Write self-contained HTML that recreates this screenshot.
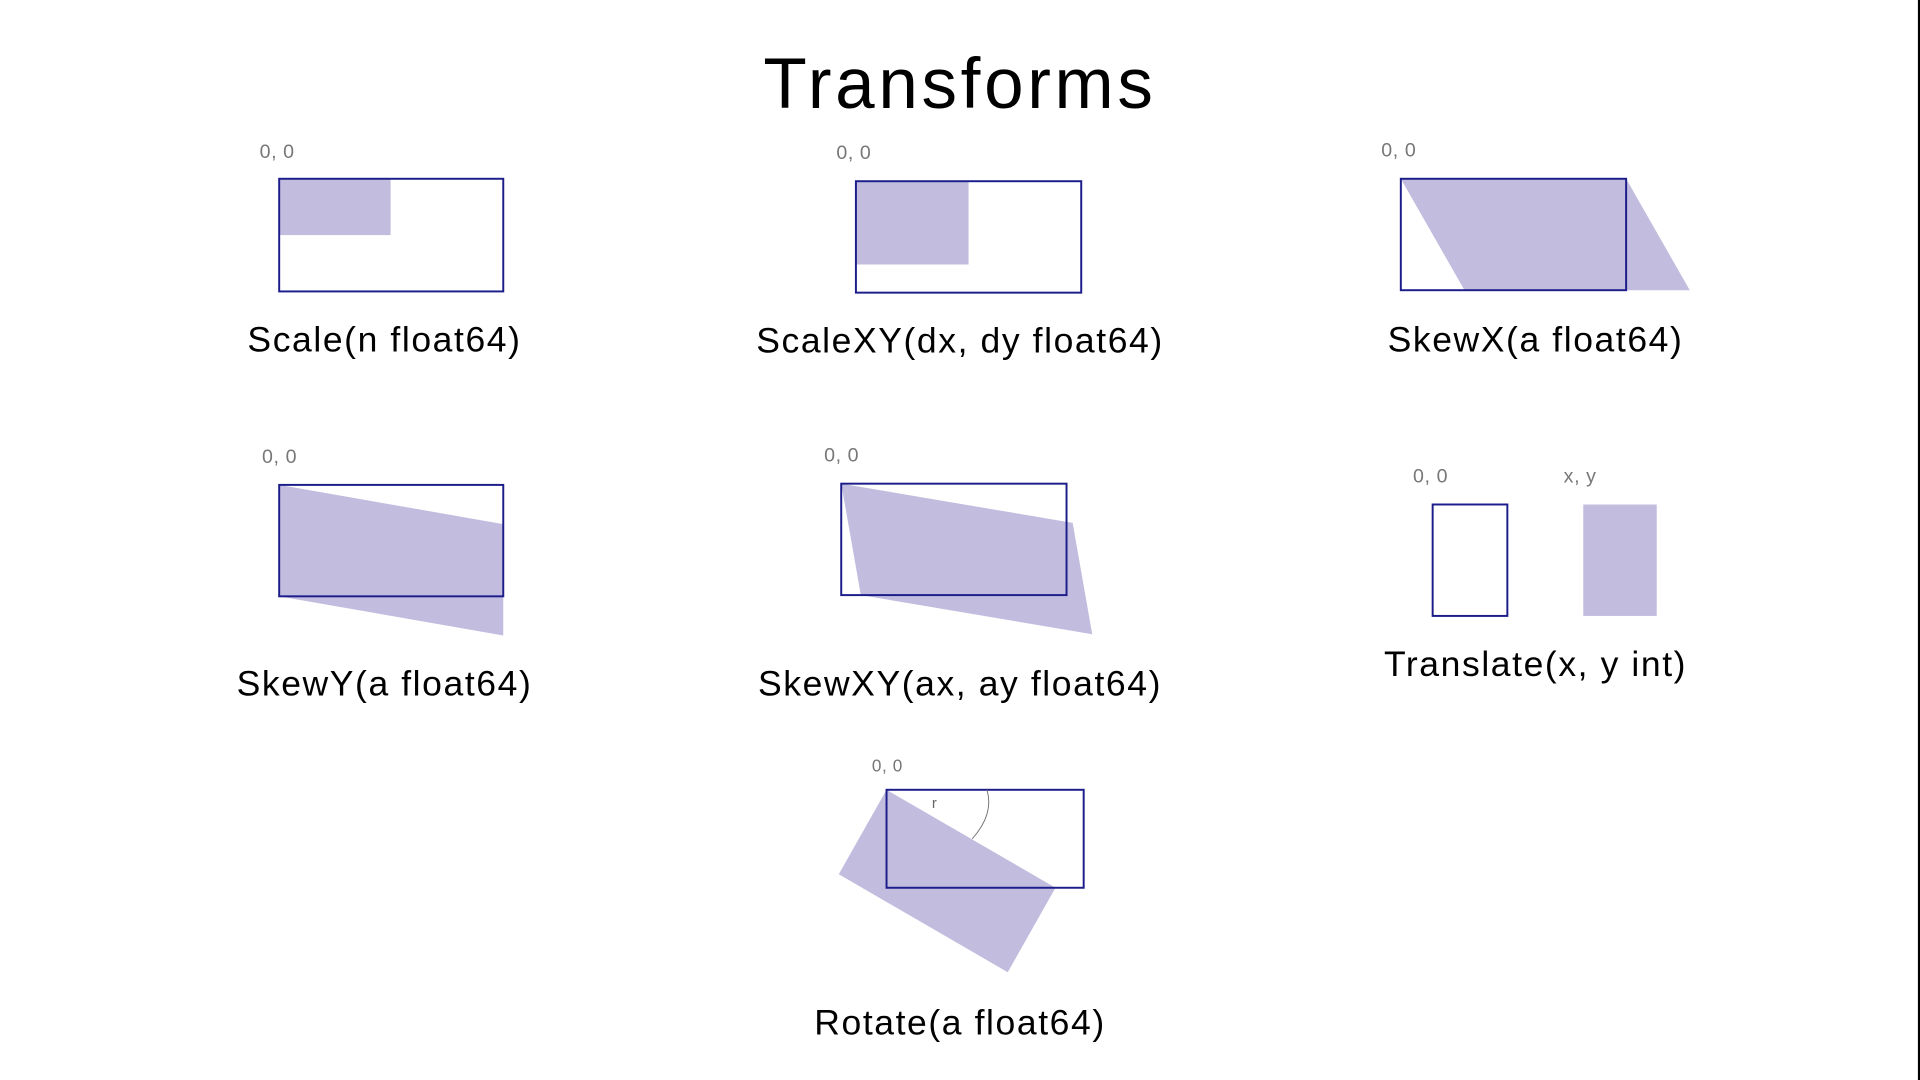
<!DOCTYPE html>
<html><head><meta charset="utf-8"><style>
html,body{margin:0;padding:0;background:#fff;width:1920px;height:1080px;overflow:hidden}
svg{display:block}
text{font-family:"Liberation Sans",sans-serif}
.cap{font-size:29px;fill:#000;text-anchor:middle;letter-spacing:1.3px}
.lbl{font-size:16px;fill:#777;letter-spacing:0.5px}
.box{fill:none;stroke:#1c1c8a;stroke-width:1.6}
.sh{fill:#c2bddf}
</style></head><body>
<svg width="1920" height="1080" viewBox="0 0 1568 882">
<rect x="1566.3" y="0" width="1.7" height="882" fill="#000"/>
<text x="784" y="88" font-size="58" text-anchor="middle" letter-spacing="3">Transforms</text>

<g>
<rect class="sh" x="228" y="146" width="91" height="46"/>
<rect class="box" x="228" y="146" width="183" height="92"/>
<text class="lbl" x="212" y="129">0, 0</text>
<text class="cap" x="314" y="287">Scale(n float64)</text>
</g>

<g>
<rect class="sh" x="699" y="148" width="92" height="68"/>
<rect class="box" x="699" y="148" width="184" height="91"/>
<text class="lbl" x="683" y="130">0, 0</text>
<text class="cap" x="784" y="288">ScaleXY(dx, dy float64)</text>
</g>

<g>
<polygon class="sh" points="1144,146 1328,146 1380,237 1196,237"/>
<rect class="box" x="1144" y="146" width="184" height="91"/>
<text class="lbl" x="1128" y="128">0, 0</text>
<text class="cap" x="1254" y="287">SkewX(a float64)</text>
</g>

<g>
<polygon class="sh" points="228,396 411,428 411,519 228,487"/>
<rect class="box" x="228" y="396" width="183" height="91"/>
<text class="lbl" x="214" y="378">0, 0</text>
<text class="cap" x="314" y="568">SkewY(a float64)</text>
</g>

<g>
<polygon class="sh" points="687,395 876,427 892,518 703,486"/>
<rect class="box" x="687" y="395" width="184" height="91"/>
<text class="lbl" x="673" y="377">0, 0</text>
<text class="cap" x="784" y="568">SkewXY(ax, ay float64)</text>
</g>

<g>
<rect class="sh" x="1293" y="412" width="60" height="91"/>
<rect class="box" x="1170" y="412" width="61" height="91"/>
<text class="lbl" x="1154" y="394">0, 0</text>
<text class="lbl" x="1277" y="394">x, y</text>
<text class="cap" x="1254" y="552">Translate(x, y int)</text>
</g>

<g>
<polygon class="sh" points="724,645 862,725 823,794 685,714"/>
<rect class="box" x="724" y="645" width="161" height="80"/>
<path d="M806,645 Q812,665 794,685" fill="none" stroke="#777" stroke-width="0.8"/>
<text x="761" y="660" font-size="12" fill="#666">r</text>
<text class="lbl" x="712" y="630" style="font-size:14px">0, 0</text>
<text class="cap" x="784" y="845">Rotate(a float64)</text>
</g>
</svg>
</body></html>
